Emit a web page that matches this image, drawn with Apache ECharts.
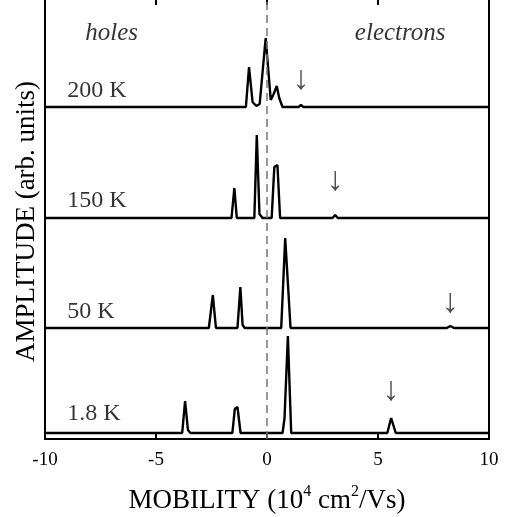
<!DOCTYPE html>
<html>
<head>
<meta charset="utf-8">
<script src="https://cdn.jsdelivr.net/npm/echarts@6/dist/echarts.min.js"></script>
<style>
  html, body { margin: 0; padding: 0; background: #fff; }
  #chart { width: 512px; height: 517px; }
</style>
</head>
<body>
<div id="chart"></div>
<script>
// mobility spectra: [mobility (10^4 cm2/Vs), amplitude above own baseline]
var trace200 = [[-10, 0], [-0.95, 0], [-0.81, 40], [-0.65, 5], [-0.48, 1], [-0.33, 3], [-0.06, 69],
  [0.17, 7], [0.3, 13], [0.44, 21], [0.55, 9], [0.7, 0], [1.42, 0], [1.53, 2], [1.64, 0], [10, 0]]
var trace150 = [[-10, 0], [-1.6, 0], [-1.47, 30], [-1.36, 0], [-0.57, 0], [-0.46, 83], [-0.34, 4],
  [-0.2, 0], [0.21, 0], [0.33, 51], [0.47, 53], [0.59, 0], [2.95, 0], [3.07, 3], [3.19, 0], [10, 0]]
var trace50 = [[-10, 0], [-2.62, 0], [-2.44, 33], [-2.3, 0], [-1.33, 0], [-1.2, 41], [-1.1, 3],
  [-1.0, 0], [0.64, 0], [0.82, 90], [1.06, 0], [8.1, 0], [8.26, 2], [8.42, 0], [10, 0]]
var trace18 = [[-10, 0], [-3.82, 0], [-3.69, 32], [-3.56, 3], [-3.45, 0], [-1.56, 0], [-1.45, 24],
  [-1.33, 26], [-1.19, 0], [0.7, 0], [0.79, 15], [0.94, 97], [1.09, 0], [5.42, 0], [5.59, 15],
  [5.8, 0], [10, 0]]

var traces = [trace200, trace150, trace50, trace18]
var temps = ['200 K', '150 K', '50 K', '1.8 K']
var offsets = [332, 221, 111, 6] // baseline of each stacked trace
var tempLabelX = -9.0
var tempLabelY = [16, 17, 16, 19]
var arrowX = [1.53, 3.07, 8.26, 5.59]
var arrowY = [10, 20, 8, 25] // arrow anchor above baseline
var carrierNames = ['holes', 'electrons']
var carrierX = [-7.0, 6.0]
var carrierY = 406

var serif = 'Liberation Serif'
var chart = echarts.init(document.getElementById('chart'))

var series = []
traces.forEach(function(tr, i) {
  series.push({
    type: 'line',
    name: temps[i],
    showSymbol: false,
    symbol: 'none',
    lineStyle: { color: '#000', width: 2.4 },
    data: tr.map(function(p) { return [p[0], p[1] + offsets[i]] }),
    z: 3
  })
})

// x = 0 guide
series[0].markLine = {
  silent: true,
  symbol: 'none',
  label: { show: false },
  lineStyle: { type: [8, 5], color: '#777', width: 1.5 },
  data: [{ xAxis: 0 }]
}

series.push({
  type: 'scatter',
  symbolSize: 0,
  silent: true,
  label: {
    show: true, position: 'right', distance: 0,
    formatter: function(p) { return temps[p.dataIndex] },
    fontFamily: serif, fontSize: 24, color: '#000'
  },
  data: temps.map(function(t, i) { return [tempLabelX, offsets[i] + tempLabelY[i]] })
})

series.push({
  type: 'scatter',
  symbolSize: 0,
  silent: true,
  label: {
    show: true, position: 'top', distance: 0,
    formatter: '↓',
    fontFamily: serif, fontSize: 34, color: '#222'
  },
  data: arrowX.map(function(x, i) { return [x, offsets[i] + arrowY[i]] })
})

series.push({
  type: 'scatter',
  symbolSize: 0,
  silent: true,
  label: {
    show: true, position: 'inside',
    formatter: function(p) { return carrierNames[p.dataIndex] },
    fontFamily: serif, fontStyle: 'italic', fontSize: 25, color: '#000'
  },
  data: carrierX.map(function(x) { return [x, carrierY] })
})

chart.setOption({
  animation: false,
  grid: {
    left: 45, right: 23, top: -6, bottom: 78,
    outerBoundsMode: 'none',
    containLabel: false,
    show: true, borderColor: '#000', borderWidth: 2
  },
  xAxis: [
    {
      type: 'value', min: -10, max: 10, interval: 5,
      axisLine: { show: true, onZero: false, lineStyle: { color: '#000', width: 2 } },
      axisTick: { show: true, inside: true, length: 7, lineStyle: { color: '#000', width: 2 } },
      axisLabel: { fontFamily: serif, fontSize: 19, color: '#000', margin: 12 },
      splitLine: { show: false },
      name: '{a|MOBILITY (10}{s|4}{a| cm}{s|2}{a|/Vs)}',
      nameLocation: 'middle',
      nameGap: 45,
      nameTextStyle: {
        rich: {
          a: { fontFamily: serif, fontSize: 27, color: '#000', lineHeight: 30, verticalAlign: 'bottom' },
          s: { fontFamily: serif, fontSize: 16, color: '#000', lineHeight: 30, verticalAlign: 'top' }
        }
      }
    },
    {
      type: 'value', min: -10, max: 10, interval: 5, position: 'top',
      axisLine: { show: true, onZero: false, lineStyle: { color: '#000', width: 2 } },
      axisTick: { show: true, inside: true, length: 11, lineStyle: { color: '#000', width: 2 } },
      axisLabel: { show: false },
      splitLine: { show: false }
    }
  ],
  yAxis: {
    type: 'value', min: 0, max: 445,
    axisLine: { show: true, onZero: false, lineStyle: { color: '#000', width: 2 } },
    axisTick: { show: false },
    axisLabel: { show: false },
    splitLine: { show: false },
    name: 'AMPLITUDE (arb. units)',
    nameLocation: 'middle',
    nameGap: 5,
    nameTextStyle: { fontFamily: serif, fontSize: 27, color: '#000', padding: [0, 10, 0, 0] }
  },
  series: series
})
</script>
</body>
</html>
